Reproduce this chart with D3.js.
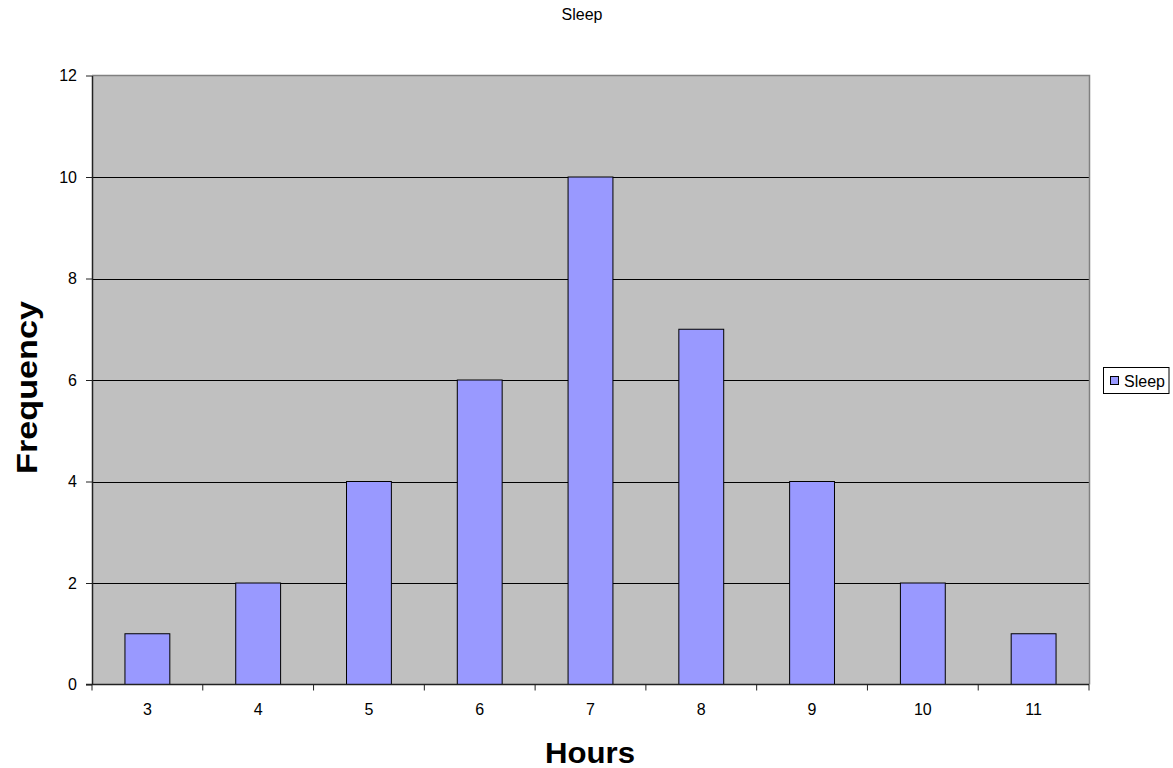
<!DOCTYPE html>
<html>
<head>
<meta charset="utf-8">
<script src="https://cdn.jsdelivr.net/npm/d3@7"></script>
<style>
  html, body { margin: 0; padding: 0; background: #fff; }
  svg { display: block; font-family: "Liberation Sans", Arial, sans-serif; }
</style>
</head>
<body>
<svg id="chart" width="1173" height="768"></svg>
<script>
// Sleep hours histogram
const hours = ["3", "4", "5", "6", "7", "8", "9", "10", "11"];
const frequency = [1, 2, 4, 6, 10, 7, 4, 2, 1];
const yTicks = [0, 2, 4, 6, 8, 10, 12];
const seriesName = "Sleep";

const FONT = "'Liberation Sans', Arial, sans-serif";
const svg = d3.select("#chart");
const plot = { left: 92, right: 1089, top: 75.5, bottom: 684.5 };

const x = d3.scaleBand().domain(hours).range([plot.left, plot.right]).paddingInner(0).paddingOuter(0);
const y = d3.scaleLinear().domain([0, 12]).range([plot.bottom, plot.top]);
const barW = x.bandwidth() * 0.405;

// plot background
svg.append("rect")
  .attr("x", plot.left).attr("y", plot.top)
  .attr("width", plot.right - plot.left).attr("height", plot.bottom - plot.top)
  .attr("fill", "#c0c0c0");

// gridlines
svg.append("g").selectAll("line")
  .data(yTicks.filter(t => t > 0 && t < 12))
  .join("line")
  .attr("x1", plot.left).attr("x2", plot.right)
  .attr("y1", d => Math.round(y(d)) + 0.5).attr("y2", d => Math.round(y(d)) + 0.5)
  .attr("stroke", "#000").attr("stroke-width", 1);

// top and right borders
svg.append("path")
  .attr("d", `M${plot.left},${plot.top}H${plot.right + 0.5}V${plot.bottom}`)
  .attr("fill", "none").attr("stroke", "#808080").attr("stroke-width", 1.5);

// bars
svg.append("g").selectAll("rect")
  .data(hours.map((h, i) => ({ h, v: frequency[i] })))
  .join("rect")
  .attr("x", d => x(d.h) + (x.bandwidth() - barW) / 2)
  .attr("y", d => y(d.v))
  .attr("width", barW)
  .attr("height", d => y(0) - y(d.v))
  .attr("fill", "#9999ff")
  .attr("stroke", "#000").attr("stroke-width", 1);

// y axis
const yAxis = svg.append("g")
  .attr("transform", `translate(${plot.left},0)`)
  .call(d3.axisLeft(y).tickValues(yTicks).tickSize(6).tickSizeOuter(0).tickPadding(9));
yAxis.select(".domain").attr("stroke", "#222").attr("stroke-width", 1.5);
yAxis.selectAll(".tick line").attr("stroke", "#222");
yAxis.selectAll("text").attr("font-size", 16).attr("fill", "#000").attr("font-family", FONT);

// x axis with ticks at band boundaries
const xAxis = svg.append("g").attr("transform", `translate(0,${plot.bottom})`);
xAxis.append("line")
  .attr("x1", plot.left - 6).attr("x2", plot.right)
  .attr("stroke", "#222").attr("stroke-width", 1.5);
const bounds = hours.map(h => x(h)).concat([plot.right]);
xAxis.selectAll(".bt").data(bounds).join("line")
  .attr("class", "bt")
  .attr("x1", d => d).attr("x2", d => d)
  .attr("y1", 0).attr("y2", 6)
  .attr("stroke", "#222");
xAxis.selectAll("text").data(hours).join("text")
  .attr("x", d => x(d) + x.bandwidth() / 2)
  .attr("y", 30.5)
  .attr("text-anchor", "middle")
  .attr("font-size", 16)
  .text(d => d);

// title
svg.append("text")
  .attr("x", 582).attr("y", 20)
  .attr("text-anchor", "middle").attr("font-size", 16)
  .text("Sleep");

// axis titles
svg.append("text")
  .attr("transform", "translate(37,387.5) rotate(-90)")
  .attr("text-anchor", "middle").attr("font-size", 30).attr("font-weight", "bold")
  .attr("textLength", 173).attr("lengthAdjust", "spacingAndGlyphs")
  .text("Frequency");
svg.append("text")
  .attr("x", 590).attr("y", 763)
  .attr("text-anchor", "middle").attr("font-size", 30).attr("font-weight", "bold")
  .attr("textLength", 90).attr("lengthAdjust", "spacingAndGlyphs")
  .text("Hours");

// legend
const lg = svg.append("g");
lg.append("rect")
  .attr("x", 1103.5).attr("y", 367.5).attr("width", 65.5).attr("height", 26)
  .attr("fill", "#fff").attr("stroke", "#000");
lg.append("rect")
  .attr("x", 1110.5).attr("y", 376.5).attr("width", 8).attr("height", 8)
  .attr("fill", "#9999ff").attr("stroke", "#000");
lg.append("text")
  .attr("x", 1124).attr("y", 386.5).attr("font-size", 16)
  .text(seriesName);
</script>
</body>
</html>
